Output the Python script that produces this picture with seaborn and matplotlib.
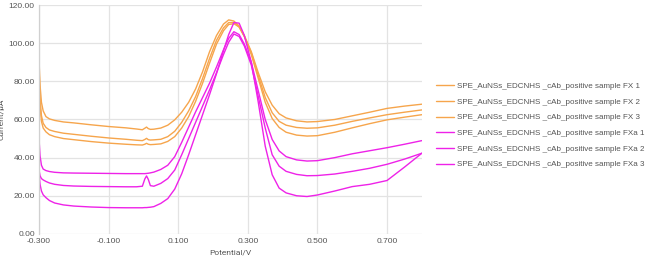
import pandas as pd
import matplotlib
matplotlib.use("Agg")
import matplotlib.pyplot as plt
import seaborn as sns

# --- data (potential in V, current in uA) ---
POTENTIAL = [-0.300, -0.297, -0.293, -0.288, -0.280, -0.270, -0.255, -0.230, -0.200, -0.150,
             -0.100, -0.050, -0.020, -0.003, 0.004, 0.009, 0.014, 0.020, 0.030, 0.050,
             0.070, 0.090, 0.110, 0.130, 0.150, 0.170, 0.190, 0.210, 0.230, 0.245,
             0.260, 0.275, 0.290, 0.310, 0.330, 0.350, 0.370, 0.390, 0.410, 0.440,
             0.470, 0.500, 0.550, 0.600, 0.650, 0.700, 0.750, 0.800]

FX1 = [91.5, 78.0, 69.0, 64.5, 61.5, 60.3, 59.5, 58.7, 58.2, 57.2,
       56.3, 55.6, 55.0, 54.6, 55.4, 56.0, 55.2, 54.8, 54.9, 55.5,
       57.0, 59.8, 63.8, 69.0, 76.0, 85.0, 95.5, 104.0, 110.0, 112.2,
       111.6, 109.0, 104.0, 95.5, 84.5, 74.5, 67.5, 63.0, 60.8, 59.3,
       58.7, 58.9, 60.0, 61.9, 63.8, 65.8, 67.0, 68.0]
FX2 = [88.0, 71.0, 62.0, 58.0, 55.8, 54.5, 53.7, 52.8, 52.2, 51.2,
       50.3, 49.6, 49.1, 48.9, 49.5, 50.1, 49.4, 49.2, 49.3, 49.6,
       51.0, 53.8, 58.5, 64.5, 72.0, 81.5, 92.0, 101.5, 108.0, 110.8,
       110.8, 108.5, 103.5, 95.0, 83.0, 71.5, 63.5, 59.0, 57.0, 55.8,
       55.4, 55.6, 57.0, 59.0, 60.8, 62.5, 63.8, 65.0]
FX3 = [85.0, 67.0, 59.0, 55.5, 53.5, 52.0, 51.0, 50.0, 49.4, 48.4,
       47.6, 47.0, 46.7, 46.6, 47.0, 47.5, 47.0, 46.8, 46.9, 47.2,
       48.5, 51.0, 55.5, 61.5, 69.5, 79.0, 89.5, 99.5, 106.5, 109.8,
       110.2, 108.5, 103.5, 94.0, 81.5, 69.0, 60.5, 55.8, 53.3, 51.8,
       51.3, 51.5, 53.3, 55.6, 57.8, 59.8, 61.2, 62.5]
FXA1 = [50.0, 41.0, 36.0, 34.0, 33.2, 32.7, 32.3, 32.0, 31.9, 31.8,
        31.7, 31.6, 31.6, 31.6, 31.6, 31.7, 31.8, 32.0, 32.4, 33.8,
        36.0, 40.5, 48.0, 56.0, 64.0, 71.5, 79.0, 87.5, 96.5, 102.5,
        106.0, 104.5, 99.5, 90.0, 75.0, 60.0, 49.5, 43.5, 40.5, 38.8,
        38.2, 38.4, 40.0, 42.0, 43.6, 45.2, 47.0, 48.9]
FXA2 = [33.5, 30.5, 29.0, 28.3, 27.5, 26.7, 26.0, 25.4, 25.1, 24.9,
        24.8, 24.7, 24.7, 25.0, 28.8, 30.4, 28.6, 25.3, 25.0, 26.5,
        29.0, 33.5, 41.5, 50.0, 58.5, 67.0, 75.5, 84.5, 94.0, 100.5,
        104.8, 103.5, 98.5, 88.5, 72.0, 55.5, 41.5, 35.5, 32.8, 31.2,
        30.5, 30.6, 31.4, 32.8, 34.4, 36.5, 39.2, 42.3]
FXA3 = [32.0, 26.0, 22.5, 20.5, 19.0, 17.5, 16.2, 15.2, 14.6, 14.1,
        13.8, 13.7, 13.7, 13.7, 13.8, 13.8, 13.9, 14.0, 14.3, 16.0,
        18.5, 23.5, 31.5, 41.5, 52.0, 62.5, 73.0, 84.0, 96.0, 104.5,
        110.8, 110.5, 104.0, 90.0, 69.0, 46.0, 31.0, 24.0, 21.5, 20.0,
        19.6, 20.4, 22.5, 24.8, 26.0, 28.0, 35.0, 42.3]

PREFIX = "SPE_AuNSs_EDCNHS _cAb_positive sample "
SERIES_NAMES = ["FX 1", "FX 2", "FX 3", "FXa 1", "FXa 2", "FXa 3"]
SERIES_VALUES = [FX1, FX2, FX3, FXA1, FXA2, FXA3]

X_TICKS = [-0.3, -0.1, 0.1, 0.3, 0.5, 0.7]
Y_TICKS = [0, 20, 40, 60, 80, 100, 120]

ORANGE = "#f6a54c"
MAGENTA = "#ee22e8"

# long-form table for seaborn
rows = []
for name, vals in zip(SERIES_NAMES, SERIES_VALUES):
    for x, y in zip(POTENTIAL, vals):
        rows.append({"Potential": x, "Current": y, "Sample": PREFIX + name})
df = pd.DataFrame(rows)

palette = {PREFIX + n: (ORANGE if n.startswith("FX ") else MAGENTA) for n in SERIES_NAMES}

sns.set_theme(style="whitegrid")
plt.rcParams["font.family"] = ["Liberation Sans", "DejaVu Sans"]

fig = plt.figure(figsize=(6.5, 2.64), dpi=100)
ax = fig.add_axes([0.06, 0.114, 0.589, 0.867])

sns.lineplot(data=df, x="Potential", y="Current", hue="Sample", palette=palette,
             estimator=None, sort=False, linewidth=1.0, ax=ax)

ax.set_xlim(-0.3, 0.8)
ax.set_ylim(0, 120)
ax.set_xticks(X_TICKS)
ax.set_yticks(Y_TICKS)
ax.set_xticklabels([f"{t:.3f}" for t in X_TICKS])
ax.set_yticklabels([f"{t:.2f}" for t in Y_TICKS])
ax.tick_params(axis="both", labelsize=6, colors="#555555", length=0, pad=3)
ax.grid(True, color="#e3e3e3", linewidth=0.9)
ax.set_axisbelow(True)
for side in ["top", "right", "bottom"]:
    ax.spines[side].set_visible(False)
ax.spines["left"].set_color("#d0d0d0")
ax.spines["left"].set_linewidth(0.9)

ax.set_xlabel("Potential/V", fontsize=6, color="#555555", family=["Roboto", "DejaVu Sans"], labelpad=3)
ax.set_ylabel("Current/μA", fontsize=6, color="#555555", family=["Roboto", "DejaVu Sans"], labelpad=3)

handles, labels = ax.get_legend_handles_labels()
leg = ax.legend(handles, labels, loc="upper left", bbox_to_anchor=(0.671, 0.688),
                bbox_transform=fig.transFigure, frameon=False, fontsize=5.8,
                handlelength=2.25, handletextpad=0.3, labelspacing=1.0,
                borderpad=0, borderaxespad=0)
for t in leg.get_texts():
    t.set_color("#555555")

fig.savefig("out.png", dpi=100)
